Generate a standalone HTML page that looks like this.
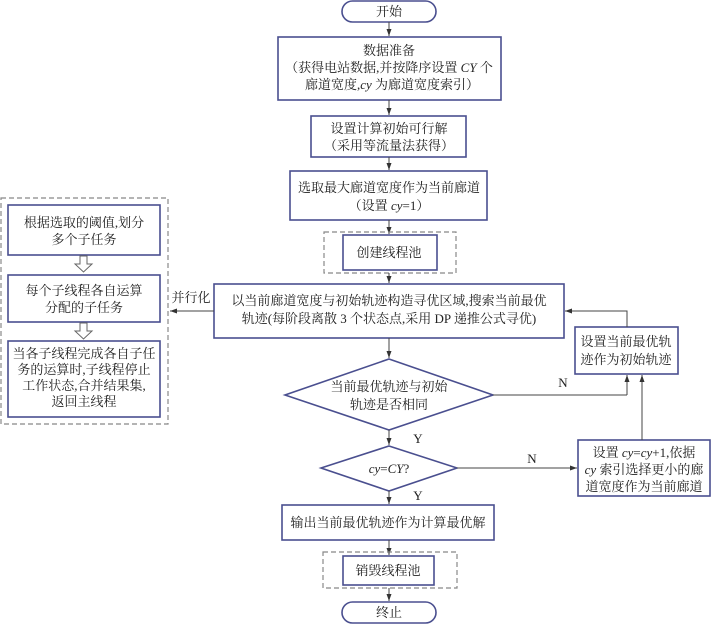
<!DOCTYPE html>
<html><head><meta charset="utf-8"><style>
html,body{margin:0;padding:0;background:#fff}
svg{display:block}
text{font-family:"Liberation Serif","Noto Serif CJK SC","Noto Sans CJK SC",serif;font-size:13px;fill:#222}
.b{fill:#fff;stroke:#4a4f8f;stroke-width:1.6}
.d{fill:none;stroke:#888;stroke-width:1.2;stroke-dasharray:5,3}
.l{stroke:#444;stroke-width:1;fill:none}
</style></head><body>
<svg width="711" height="624" viewBox="0 0 711 624">
<defs><marker id="a" markerWidth="8" markerHeight="8" refX="7" refY="4" orient="auto" markerUnits="userSpaceOnUse"><path d="M0,1.5 L7,4 L0,6.5 Z" fill="#333"/></marker></defs>
<g text-anchor="middle">
<rect class="b" x="342" y="1" width="94" height="21" rx="10.5"/><text x="389" y="16">开始</text>
<line class="l" x1="389" y1="22" x2="389" y2="36" marker-end="url(#a)"/>
<rect class="b" x="278" y="37" width="223" height="63"/>
<text x="389" y="55">数据准备</text>
<text x="389" y="72">（获得电站数据,并按降序设置 <tspan font-style="italic">CY</tspan> 个</text>
<text x="392" y="89">廊道宽度,<tspan font-style="italic">cy</tspan> 为廊道宽度索引）</text>
<line class="l" x1="389" y1="100" x2="389" y2="115" marker-end="url(#a)"/>
<rect class="b" x="311" y="116" width="155" height="41"/>
<text x="389" y="133">设置计算初始可行解</text><text x="389" y="150">（采用等流量法获得）</text>
<line class="l" x1="389" y1="157" x2="389" y2="170" marker-end="url(#a)"/>
<rect class="b" x="290" y="171" width="197" height="49"/>
<text x="389" y="192">选取最大廊道宽度作为当前廊道</text><text x="389" y="210">（设置 <tspan font-style="italic">cy</tspan>=1）</text>
<line class="l" x1="389" y1="220" x2="389" y2="234" marker-end="url(#a)"/>
<rect class="d" x="324" y="232" width="132" height="41"/>
<rect class="b" x="343" y="235" width="94" height="35"/><text x="389" y="257">创建线程池</text>
<line class="l" x1="389" y1="273" x2="389" y2="283" marker-end="url(#a)"/>
<rect class="b" x="214" y="284" width="350" height="54"/>
<text x="389" y="305">以当前廊道宽度与初始轨迹构造寻优区域,搜索当前最优</text>
<text x="389" y="323">轨迹(每阶段离散 3 个状态点,采用 DP 递推公式寻优)</text>
<line class="l" x1="214" y1="311" x2="170" y2="311" marker-end="url(#a)"/>
<text x="191" y="302">并行化</text>
<rect class="d" x="1" y="198" width="167" height="226"/>
<rect class="b" x="8" y="205" width="152" height="50"/><text x="84" y="227">根据选取的阈值,划分</text><text x="84" y="244">多个子任务</text>
<path d="M80,256 h7 v8 h5 l-8.5,8 l-8.5,-8 h5 z" fill="#fff" stroke="#666"/>
<rect class="b" x="8" y="275" width="152" height="47"/><text x="84" y="295">每个子线程各自运算</text><text x="84" y="312">分配的子任务</text>
<path d="M80,323 h7 v8 h5 l-8.5,8 l-8.5,-8 h5 z" fill="#fff" stroke="#666"/>
<rect class="b" x="8" y="341" width="152" height="76"/>
<text x="84" y="358">当各子线程完成各自子任</text><text x="84" y="374">务的运算时,子线程停止</text><text x="84" y="390">工作状态,合并结果集,</text><text x="84" y="406">返回主线程</text>
<line class="l" x1="389" y1="338" x2="389" y2="358" marker-end="url(#a)"/>
<polygon class="b" points="389,359 493,395 389,430 285,395"/>
<text x="389" y="391">当前最优轨迹与初始</text><text x="389" y="409">轨迹是否相同</text>
<line class="l" x1="493" y1="395" x2="627" y2="395"/><line class="l" x1="627" y1="395" x2="627" y2="375" marker-end="url(#a)"/>
<text x="563" y="387">N</text>
<rect class="b" x="575" y="327" width="103" height="47"/><text x="626" y="346">设置当前最优轨</text><text x="626" y="364">迹作为初始轨迹</text>
<polyline class="l" points="627,327 627,311 566,311"/><line class="l" x1="580" y1="311" x2="565" y2="311" marker-end="url(#a)"/>
<line class="l" x1="389" y1="430" x2="389" y2="445" marker-end="url(#a)"/>
<text x="418" y="443">Y</text>
<polygon class="b" points="389,446 457,468 389,491 321,468"/>
<text x="389" y="473"><tspan font-style="italic">cy</tspan>=<tspan font-style="italic">CY</tspan>?</text>
<line class="l" x1="457" y1="468" x2="577" y2="468" marker-end="url(#a)"/><text x="532" y="463">N</text>
<rect class="b" x="578" y="440" width="132" height="56"/>
<text x="644" y="457">设置 <tspan font-style="italic">cy</tspan>=<tspan font-style="italic">cy</tspan>+1,依据</text>
<text x="644" y="474"><tspan font-style="italic">cy</tspan> 索引选择更小的廊</text>
<text x="644" y="491">道宽度作为当前廊道</text>
<line class="l" x1="642" y1="440" x2="642" y2="375" marker-end="url(#a)"/>
<line class="l" x1="389" y1="491" x2="389" y2="504" marker-end="url(#a)"/><text x="418" y="500">Y</text>
<rect class="b" x="282" y="505" width="212" height="35"/><text x="388" y="527">输出当前最优轨迹作为计算最优解</text>
<line class="l" x1="389" y1="540" x2="389" y2="555" marker-end="url(#a)"/>
<rect class="d" x="323" y="552" width="134" height="36"/>
<rect class="b" x="343" y="556" width="91" height="29"/><text x="388" y="575">销毁线程池</text>
<line class="l" x1="389" y1="588" x2="389" y2="601" marker-end="url(#a)"/>
<rect class="b" x="342" y="602" width="94" height="21" rx="10.5"/><text x="389" y="617">终止</text>
</g>
</svg>
</body></html>
